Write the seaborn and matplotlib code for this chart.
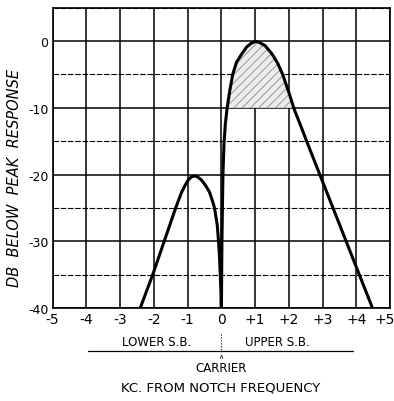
import matplotlib
matplotlib.use("Agg")
import matplotlib.pyplot as plt
import seaborn as sns
import pandas as pd
from matplotlib.lines import Line2D
from matplotlib.transforms import ScaledTranslation

# ---- data ----
lower_x = [-2.40, -2.03, -1.69, -1.52, -1.35, -1.17, -1.07, -0.97, -0.88, -0.79, -0.70,
           -0.59, -0.47, -0.35, -0.27, -0.20, -0.12, -0.08, -0.05, -0.03, -0.01, 0.0]
lower_y = [-40, -35, -30, -27.5, -25, -22.6, -21.6, -20.75, -20.35, -20.2, -20.35,
           -20.8, -21.6, -22.6, -23.8, -25, -27.5, -30, -32.5, -35, -37.5, -40]
upper_x = [0.005, 0.02, 0.05, 0.08, 0.12, 0.17, 0.25, 0.34, 0.45, 0.61, 0.75, 0.88, 0.98,
           1.05, 1.13, 1.3, 1.5, 1.67, 1.82, 1.99, 2.16, 2.34, 2.53, 2.92, 3.31, 3.70, 4.09, 4.48]
upper_y = [-40, -30, -20, -15.5, -12.5, -10.2, -7.5, -5, -3.2, -1.9, -0.9, -0.35, -0.12,
           -0.08, -0.2, -0.7, -1.9, -3.3, -5, -7.5, -10.2, -12.5, -15, -20, -25, -30, -35, -40]
x_ticks = [-5, -4, -3, -2, -1, 0, 1, 2, 3, 4, 5]
x_labels = ["-5", "-4", "-3", "-2", "-1", "0", "+1", "+2", "+3", "+4", "+5"]
y_ticks = [0, -10, -20, -30, -40]
y_labels = ["0", "-10", "-20", "-30", "-40"]
shade_level = -10

df = pd.DataFrame({"kc": lower_x + upper_x, "db": lower_y + upper_y})

sns.set_style("white")
plt.rcParams["font.family"] = ["DejaVu Sans"]
plt.rcParams["text.color"] = "black"
plt.rcParams["xtick.color"] = "black"
plt.rcParams["ytick.color"] = "black"
plt.rcParams["axes.labelcolor"] = "black"
plt.rcParams["hatch.linewidth"] = 0.6

W, H = 394, 402
fig = plt.figure(figsize=(W / 100, H / 100), dpi=100)
L, R, T, B = 52.5, 390, 8.7, 309
ax = fig.add_axes([L / W, 1 - B / H, (R - L) / W, (B - T) / H])

ax.set_xlim(-5, 5)
ax.set_ylim(-40, 5)

# grid
for xv in x_ticks:
    ax.axvline(xv, color="black", lw=1.1, zorder=1)
for yv in range(-40, 6, 10):
    ax.axhline(yv, color="black", lw=1.1, zorder=1)
for yv in range(-35, 6, 10):
    ax.axhline(yv, color="black", lw=0.8, ls=(0, (5, 1.5)), zorder=1)

# shaded region above -10 dB
ux = pd.Series(upper_x)
uy = pd.Series(upper_y)
ax.fill_between(ux, uy, shade_level, where=uy >= shade_level, interpolate=True,
                facecolor="#ececec", edgecolor="#8a8a8a", hatch="////",
                linewidth=0, zorder=2)

sns.lineplot(data=df, x="kc", y="db", sort=False, estimator=None,
             color="black", lw=2.2, ax=ax, zorder=3)

ax.set_xticks(x_ticks)
ax.set_xticklabels(x_labels, fontsize=10)
ax.set_yticks(y_ticks)
ax.set_yticklabels(y_labels, fontsize=9)
ax.tick_params(length=0, pad=3)
# nudge the last x label inward so it stays on the canvas, as in the reference
last = ax.get_xticklabels()[-1]
last.set_transform(last.get_transform() + ScaledTranslation(-5 / 100, 0, fig.dpi_scale_trans))
ax.set_xlabel("")
ax.set_ylabel("DB  BELOW  PEAK  RESPONSE", fontsize=10.5, style="italic")
ax.yaxis.set_label_coords((22 - L) / (R - L), (B - 178) / (B - T))
for s in ax.spines.values():
    s.set_color("black")
    s.set_linewidth(1.2)

# bottom annotations (figure pixel coordinates)
def fx(px):
    return px / W

def fy(py):
    return 1 - py / H

fig.text(fx(157), fy(343), "LOWER S.B.", fontsize=8.5, ha="center", va="center")
fig.text(fx(277), fy(343), "UPPER S.B.", fontsize=8.5, ha="center", va="center")
fig.add_artist(Line2D([fx(88), fx(353)], [fy(352), fy(352)], color="black", lw=0.9))
fig.add_artist(Line2D([fx(221), fx(221)], [fy(335), fy(352)], color="black", lw=0.8, ls=":"))
fig.text(fx(221), fy(357), "\u2227", fontsize=5, ha="center", va="center")
fig.text(fx(221), fy(369), "CARRIER", fontsize=8.5, ha="center", va="center")
fig.text(fx(221), fy(388), "KC. FROM NOTCH FREQUENCY", fontsize=9.5, ha="center", va="center")

fig.savefig("out.png", dpi=100)
